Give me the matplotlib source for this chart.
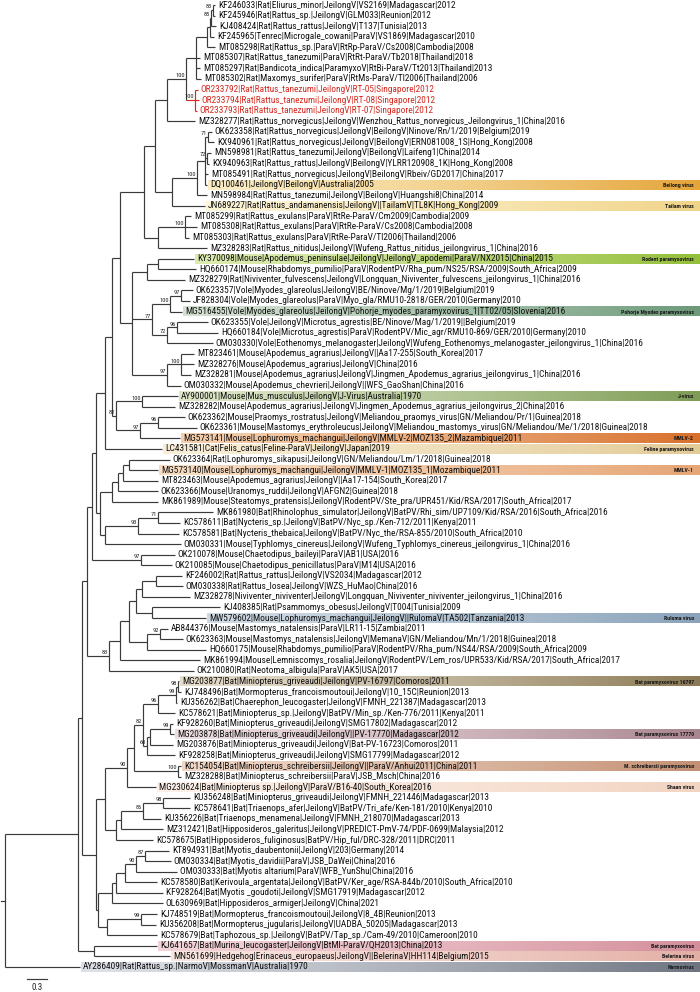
import matplotlib
matplotlib.use("Agg")
import matplotlib.pyplot as plt
import numpy as np
from matplotlib import font_manager
from matplotlib.font_manager import FontProperties
from matplotlib.colors import LinearSegmentedColormap

# ---------------- data: tree (Newick pieces; branch lengths in subst./site, bootstrap as node labels) ----------------
A2 = "(KF246033:0.03,KF245946:0.03)83:0.03"
A3 = "(" + A2 + ",KJ408424:0.075)85:0.015"
A4 = "(" + A3 + ",KF245965:0.06):0.045"
A5 = "(" + A4 + ",MT085298:0.12):0.165"
A_THAI = "(" + A5 + ",MT085307:0.06,MT085297:0.06,MT085302:0.075):0.15"
SING = "(OR233792:0.045,OR233794:0.06,OR233793:0.03)100:0.135"
A = "(" + A_THAI + "," + SING + ")100:0.285"
AP_ = "(" + A + ",MZ328277:0.42):0.18"
BEILONG = ("(((OK623358:0.06,KX940961:0.09)71:0.045,(MN598981:0.06,KX940963:0.03)72:0.03,"
           "MT085491:0.045,DQ100461:0.03):0.12,MN598984:0.15)100:0.375")
BT = "(" + BEILONG + ",JN689227:0.495):0.255"
T1B = "(" + AP_ + "," + BT + "):0.165"
N158 = "((MT085299:0.09,MT085308:0.18,MT085303:0.06)100:0.405,MZ328283:0.735):0.21"
N144 = "(" + T1B + "," + N158 + "):0.36"
RP = "((KY370098:0.54,HQ660174:0.57):0.165,MZ328279:0.57):0.225"
MY = ("(((OK623357:0.18,JF828304:0.135)97:0.165,MG516455:0.18)100:0.27,"
      "((OK623355:0.465,HQ660184:0.615)96:0.15,OM030330:0.69)72:0.225)77:0.30")
APO = "((MT823461:0.195,MZ328276:0.195,MZ328281:0.15)100:0.21,OM030332:0.21)97:0.525"
N132 = "(" + RP + "," + MY + "," + APO + "):0.18"
NTOP = "(" + N144 + "," + N132 + "):0.12"
J = "(AY900001:0.54,MZ328282:0.495)100:0.39"
M97 = "((OK623362:0.405,OK623361:0.585)96:0.27,MG573141:0.60)97:0.36"
NJ = "(" + J + "," + M97 + ")82:0.06"
N112 = "(" + NTOP + "," + NJ + "):0.105"
N105 = "(" + N112 + ",LC431581:0.855):0.135"
M2 = "((((OK623364:0.615,MG573140:0.435):0.09,MT823463:0.525):0.075,OK623366:0.60):0.09,MK861989:0.69):0.18"
NY = "(((MK861980:0.825,KC578611:0.33)71:0.30,KC578581:0.615)93:0.495,OM030331:1.14):0.075"
NYM = "(" + M2 + "," + NY + "):0.06"
A_ = "(" + N105 + "," + NYM + "):0.06"
CH = "(OK210078:0.51,OK210085:0.465)97:0.735"
RTOP = "(" + A_ + "," + CH + "):0.075"
RR_TOP = "(((KF246002:0.39,OM030338:0.405):0.21,MZ328278:0.72):0.09,(KJ408385:1.02,MW579602:0.81):0.24):0.105"
RR4 = "((AB844376:0.12,OK623363:0.345)92:0.195,HQ660175:0.885):0.27"
R83 = "(((" + RR_TOP + "," + RR4 + "):0.135,MK861994:1.20):0.165,OK210080:1.275)83:0.33"
R = "(" + RTOP + "," + R83 + "):0.075"

B99 = "((MG203877:0.015,KJ748496:0.045)98:0.03,KU356262:0.015)99:0.27"
B96 = "(" + B99 + ",KC578621:0.255)96:0.225"
B60 = "(((KF928260:0.045,MG203878:0.06)99:0.30,MG203876:0.345):0.045,KF928258:0.42)60:0.06"
B82 = "(" + B96 + "," + B60 + ")82:0.135"
N134 = "(" + B82 + ",(KC154054:0.045,MZ328288:0.045)100:0.66):0.105"
N127 = "(" + N134 + ",MG230624:0.435)90:0.33"
N116B = ("((((KU356248:0.405,KC578641:0.405)98:0.30,KU356226:0.27)86:0.33,MZ312421:0.63):0.075,"
         "KC578675:0.555):0.165")
N105B = "(" + N127 + "," + N116B + "):0.135"
MY87 = "(KT894931:0.36,OM030334:0.39)87:0.135"
MY90 = "(" + MY87 + ",OM030333:0.615)90:0.165"
MY2 = "(" + MY90 + ",KC578580:0.48):0.135"
MYO = "(" + MY2 + ",KF928264:0.705):0.06"
N112B = "(" + MYO + ",OL630969:0.765):0.21"
TA = "((KJ748519:0.24,KU356208:0.225)99:0.51,KC578679:0.75):0.135"
N98 = "(" + N112B + "," + TA + "):0.03"
B = "(" + N105B + "," + N98 + "):0.21"
X = "(" + R + "," + B + "):0.06"
BB = "(KJ641657:0.945,MN561699:1.14):0.24"
INGROUP = "(" + X + "," + BB + "):1.10"
TREE = "(" + INGROUP + ",AY286409:1.13);"

tip_labels = [
 "KF246033|Rat|Eliurus_minor|JeilongV|VS2169|Madagascar|2012",
 "KF245946|Rat|Rattus_sp.|JeilongV|GLM033|Reunion|2012",
 "KJ408424|Rat|Rattus_rattus|JeilongV|T137|Tunisia|2013",
 "KF245965|Tenrec|Microgale_cowani|ParaV|VS1869|Madagascar|2010",
 "MT085298|Rat|Rattus_sp.|ParaV|RtRp-ParaV/Cs2008|Cambodia|2008",
 "MT085307|Rat|Rattus_tanezumi|ParaV|RtRt-ParaV/Tb2018|Thailand|2018",
 "MT085297|Rat|Bandicota_indica|ParamyxoV|RtBi-ParaV/Tt2013|Thailand|2013",
 "MT085302|Rat|Maxomys_surifer|ParaV|RtMs-ParaV/Tl2006|Thailand|2006",
 "OR233792|Rat|Rattus_tanezumi|JeilongV|RT-05|Singapore|2012",
 "OR233794|Rat|Rattus_tanezumi|JeilongV|RT-08|Singapore|2012",
 "OR233793|Rat|Rattus_tanezumi|JeilongV|RT-07|Singapore|2012",
 "MZ328277|Rat|Rattus_norvegicus|JeilongV|Wenzhou_Rattus_norvegicus_Jeilongvirus_1|China|2016",
 "OK623358|Rat|Rattus_norvegicus|JeilongV|BeilongV|Ninove/Rn/1/2019|Belgium|2019",
 "KX940961|Rat|Rattus_norvegicus|JeilongV|BeilongV|ERN081008_1S|Hong_Kong|2008",
 "MN598981|Rat|Rattus_tanezumi|JeilongV|BeilongV|Laifeng1|China|2014",
 "KX940963|Rat|Rattus_rattus|JeilongV|BeilongV|YLRR120908_1K|Hong_Kong|2008",
 "MT085491|Rat|Rattus_norvegicus|JeilongV|BeilongV|Rbeiv/GD2017|China|2017",
 "DQ100461|JeilongV|BeilongV|Australia|2005",
 "MN598984|Rat|Rattus_tanezumi|JeilongV|BeilongV|Huangshi8|China|2014",
 "JN689227|Rat|Rattus_andamanensis|JeilongV||TailamV|TL8K|Hong_Kong|2009",
 "MT085299|Rat|Rattus_exulans|ParaV|RtRe-ParaV/Cm2009|Cambodia|2009",
 "MT085308|Rat|Rattus_exulans|ParaV|RtRe-ParaV/Cs2008|Cambodia|2008",
 "MT085303|Rat|Rattus_exulans|ParaV|RtRe-ParaV/Tl2006|Thailand|2006",
 "MZ328283|Rat|Rattus_nitidus|JeilongV|Wufeng_Rattus_nitidus_jeilongvirus_1|China|2016",
 "KY370098|Mouse|Apodemus_peninsulae|JeilongV|JeilongV_apodemi|ParaV/NX2015|China|2015",
 "HQ660174|Mouse|Rhabdomys_pumilio|ParaV|RodentPV/Rha_pum/NS25/RSA/2009|South_Africa|2009",
 "MZ328279|Rat|Niviventer_fulvescens|JeilongV|Longquan_Niviventer_fulvescens_jeilongvirus_1|China|2016",
 "OK623357|Vole|Myodes_glareolus|JeilongV|BE/Ninove/Mg/1/2019|Belgium|2019",
 "JF828304|Vole|Myodes_glareolus|ParaV|Myo_gla/RMU10-2818/GER/2010|Germany|2010",
 "MG516455|Vole|Myodes_glareolus|JeilongV|Pohorje_myodes_paramyxovirus_1|TT02/05|Slovenia|2016",
 "OK623355|Vole|JeilongV|Microtus_agrestis|BE/Ninove/Mag/1/2019||Belgium|2019",
 "HQ660184|Vole|Microtus_agrestis|ParaV|RodentPV/Mic_agr/RMU10-869/GER/2010|Germany|2010",
 "OM030330|Vole|Eothenomys_melanogaster|JeilongV|Wufeng_Eothenomys_melanogaster_jeilongvirus_1|China|2016",
 "MT823461|Mouse|Apodemus_agrarius|JeilongV||Aa17-255|South_Korea|2017",
 "MZ328276|Mouse|Apodemus_agrarius|JeilongV|China|2016",
 "MZ328281|Mouse|Apodemus_agrarius|JeilongV|Jingmen_Apodemus_agrarius_jeilongvirus_1|China|2016",
 "OM030332|Mouse|Apodemus_chevrieri|JeilongV||WFS_GaoShan|China|2016",
 "AY900001|Mouse|Mus_musculus|JeilongV|J-Virus|Australia|1970",
 "MZ328282|Mouse|Apodemus_agrarius|JeilongV|Jingmen_Apodemus_agrarius_jeilongvirus_2|China|2016",
 "OK623362|Mouse|Praomys_rostratus|JeilongV|Meliandou_praomys_virus|GN/Meliandou/Pr/1|Guinea|2018",
 "OK623361|Mouse|Mastomys_erythroleucus|JeilongV|Meliandou_mastomys_virus|GN/Meliandou/Me/1/2018|Guinea|2018",
 "MG573141|Mouse|Lophuromys_machangui|JeilongV|MMLV-2|MOZ135_2|Mazambique|2011",
 "LC431581|Cat|Felis_catus|Feline-ParaV|JeilongV|Japan|2019",
 "OK623364|Rat|Lophuromys_sikapusi|JeilongV|GN/Meliandou/Lm/1/2018|Guinea|2018",
 "MG573140|Mouse|Lophuromys_machangui|JeilongV|MMLV-1|MOZ135_1|Mozambique|2011",
 "MT823463|Mouse|Apodemus_agrarius|JeilongV||Aa17-154|South_Korea|2017",
 "OK623366|Mouse|Uranomys_ruddi|JeilongV|AFGN2|Guinea|2018",
 "MK861989|Mouse|Steatomys_pratensis|JeilongV|RodentPV/Ste_pra/UPR451/Kid/RSA/2017|South_Africa|2017",
 "MK861980|Bat|Rhinolophus_simulator|JeilongV|BatPV/Rhi_sim/UP7109/Kid/RSA/2016|South_Africa|2016",
 "KC578611|Bat|Nycteris_sp.|JeilongV|BatPV/Nyc_sp./Ken-712/2011|Kenya|2011",
 "KC578581|Bat|Nycteris_thebaica|JeilongV|BatPV/Nyc_the/RSA-855/2010|South_Africa|2010",
 "OM030331|Mouse|Typhlomys_cinereus|JeilongV|Wufeng_Typhlomys_cinereus_jeilongvirus_1|China|2016",
 "OK210078|Mouse|Chaetodipus_baileyi|ParaV|AB1|USA|2016",
 "OK210085|Mouse|Chaetodipus_penicillatus|ParaV|M14|USA|2016",
 "KF246002|Rat|Rattus_rattus|JeilongV|VS2034|Madagascar|2012",
 "OM030338|Rat|Rattus_losea|JeilongV|WZS_HuMao|China|2016",
 "MZ328278|Niviventer_niviventer|JeilongV|Longquan_Niviventer_niviventer_jeilongvirus_1|China|2016",
 "KJ408385|Rat|Psammomys_obesus|JeilongV|T004|Tunisia|2009",
 "MW579602|Mouse|Lophuromys_machangui|JeilongV||RulomaV|TA502|Tanzania|2013",
 "AB844376|Mouse|Mastomys_natalensis|ParaV|LR11-15|Zambia|2011",
 "OK623363|Mouse|Mastomys_natalensis|JeilongV|MemanaV|GN/Meliandou/Mn/1/2018|Guinea|2018",
 "HQ660175|Mouse|Rhabdomys_pumilio|ParaV|RodentPV/Rha_pum/NS44/RSA/2009|South_Africa|2009",
 "MK861994|Mouse|Lemniscomys_rosalia|JeilongV|RodentPV/Lem_ros/UPR533/Kid/RSA/2017|South_Africa|2017",
 "OK210080|Rat|Neotoma_albigula|ParaV|AK5|USA|2017",
 "MG203877|Bat|Miniopterus_griveaudi|JeilongV|PV-16797|Comoros|2011",
 "KJ748496|Bat|Mormopterus_francoismoutoui|JeilongV|10_15C|Reunion|2013",
 "KU356262|Bat|Chaerephon_leucogaster|JeilongV|FMNH_221387|Madagascar|2013",
 "KC578621|Bat|Miniopterus_sp.|JeilongV|BatPV/Min_sp./Ken-776/2011|Kenya|2011",
 "KF928260|Bat|Miniopterus_griveaudi|JeilongV|SMG17802|Madagascar|2012",
 "MG203878|Bat|Miniopterus_griveaudi|JeilongV||PV-17770|Madagascar|2012",
 "MG203876|Bat|Miniopterus_griveaudi|JeilongV|Bat-PV-16723|Comoros|2011",
 "KF928258|Bat|Miniopterus_griveaudi|JeilongV|SMG17799|Madagascar|2012",
 "KC154054|Bat|Miniopterus_schreibersii|JeilongV||ParaV/Anhui2011|China|2011",
 "MZ328288|Bat|Miniopterus_schreibersii|ParaV|JSB_Msch|China|2016",
 "MG230624|Bat|Miniopterus sp.|JeilongV|ParaV/B16-40|South_Korea|2016",
 "KU356248|Bat|Miniopterus_griveaudi|JeilongV|FMNH_221446|Madagascar|2013",
 "KC578641|Bat|Triaenops_afer|JeilongV|BatPV/Tri_afe/Ken-181/2010|Kenya|2010",
 "KU356226|Bat|Triaenops_menamena|JeilongV|FMNH_218070|Madagascar|2013",
 "MZ312421|Bat|Hipposideros_galeritus|JeilongV|PREDICT-PmV-74/PDF-0699|Malaysia|2012",
 "KC578675|Bat|Hipposideros_fuliginosus|BatPV/Hip_ful/DRC-328/2011|DRC|2011",
 "KT894931|Bat|Myotis_daubentonii|JeilongV|203|Germany|2014",
 "OM030334|Bat|Myotis_davidii|ParaV|JSB_DaWei|China|2016",
 "OM030333|Bat|Myotis altarium|ParaV|WFB_YunShu|China|2016",
 "KC578580|Bat|Kerivoula_argentata|JeilongV|BatPV/Ker_age/RSA-844b/2010|South_Africa|2010",
 "KF928264|Bat|Myotis _goudoti|JeilongV|SMG17919|Madagascar|2012",
 "OL630969|Bat|Hipposideros_armiger|JeilongV|China|2021",
 "KJ748519|Bat|Mormopterus_francoismoutoui|JeilongV|8_4B|Reunion|2013",
 "KU356208|Bat|Mormopterus_jugularis|JeilongV|UADBA_50205|Madagascar|2013",
 "KC578679|Bat|Taphozous_sp.|JeilongV|BatPV/Tap_sp./Cam-49/2010|Cameroon|2010",
 "KJ641657|Bat|Murina_leucogaster|JeilongV|BtMl-ParaV/QH2013|China|2013",
 "MN561699|Hedgehog|Erinaceus_europaeus|JeilongV||BelerinaV|HH114|Belgium|2015",
 "AY286409|Rat|Rattus_sp.|NarmoV|MossmanV|Australia|1970",
]
highlight_tips = ["OR233792", "OR233794", "OR233793"]

band_tips = ["DQ100461", "JN689227", "KY370098", "MG516455", "AY900001", "MG573141",
             "LC431581", "MG573140", "MW579602", "MG203877", "MG203878", "KC154054",
             "MG230624", "KJ641657", "MN561699", "AY286409"]
band_names = ["Beilong virus", "Tailam virus", "Rodent paramyxovirus", "Pohorje Myodes paramyxovirus",
              "J-virus", "MMLV-2", "Feline paramyxovirus", "MMLV-1", "Ruloma virus",
              "Bat paramyxovirus 16797", "Bat paramyxovirus 17770", "M. schreibersii paramyxovirus",
              "Shaan virus", "Bat paramyxovirus", "Belerina virus", "Narmovirus"]
band_left = ["#fbedc4", "#fdf5d8", "#dcebb0", "#d4e0d2", "#dde6c8", "#f4cfae", "#f8edd6", "#f7dcc2",
             "#cfd9e3", "#e4dccb", "#ecdde0", "#efd6c6", "#fcf0e8", "#f2d3d8", "#f9e5df", "#dde0e6"]
band_right = ["#e5a53a", "#f0d488", "#94bf3a", "#6d9a7a", "#7e9c55", "#d8702c", "#e2cb97", "#e6a575",
              "#8aa3ba", "#8b7a55", "#a98690", "#c39074", "#f2d4c2", "#d48f9b", "#e3afa5", "#6e7480"]
scale_length = 0.3

# ---------------- parse tree ----------------
def parse_newick(s):
    pos = 0
    def node():
        nonlocal pos
        n = {"children": [], "name": "", "len": 0.0, "support": ""}
        if s[pos] == "(":
            pos += 1
            while True:
                n["children"].append(node())
                if s[pos] == ",":
                    pos += 1
                    continue
                pos += 1
                break
        st = pos
        while pos < len(s) and s[pos] not in ":,();":
            pos += 1
        lab = s[st:pos]
        if n["children"]:
            n["support"] = lab
        else:
            n["name"] = lab
        if pos < len(s) and s[pos] == ":":
            pos += 1
            st = pos
            while s[pos] not in ",();":
                pos += 1
            n["len"] = float(s[st:pos])
        return n
    return node()

root = parse_newick(TREE)
tips = []
def layout(n, x0):
    n["x"] = x0 + n["len"]
    if not n["children"]:
        n["y"] = len(tips)
        tips.append(n)
    else:
        for c in n["children"]:
            layout(c, n["x"])
        n["y"] = (n["children"][0]["y"] + n["children"][-1]["y"]) / 2
layout(root, 0.0)

label_of = {lab.split("|")[0]: lab for lab in tip_labels}

def mark_red(n):
    if not n["children"]:
        n["red"] = n["name"] in highlight_tips
    else:
        for c in n["children"]:
            mark_red(c)
        n["red"] = all(c["red"] for c in n["children"])
mark_red(root)

# ---------------- fonts ----------------
def pick_font():
    cands = [("Liberation Sans Narrow", "normal"), ("Arial Narrow", "normal"),
             ("Roboto Condensed", "normal"), ("Roboto", "condensed"),
             ("Noto Sans", "condensed"), ("Open Sans", "condensed"),
             ("DejaVu Sans", "condensed"), ("Liberation Sans", "normal")]
    for fam, st in cands:
        fp = FontProperties(family=fam, stretch=st)
        try:
            path = font_manager.findfont(fp, fallback_to_default=False)
        except Exception:
            continue
        low = path.lower()
        if st == "normal" and fam.lower().split()[0] in low.replace(" ", ""):
            return fp
        if "condensed" in low or "narrow" in low:
            return fp
    return FontProperties(family="DejaVu Sans")
FP = pick_font()

# ---------------- figure ----------------
W, H = 700, 992
fig = plt.figure(figsize=(W / 100, H / 100), dpi=100)
ax = fig.add_axes([0, 0, 1, 1])
ax.axis("off")
PX = 66.67           # pixels per unit (0.3 -> 20 px)
X0 = 4.5             # root pixel position
DY = 10.57           # pixels per tip row
Y0 = 5.0
xmin, xmax = -X0 / PX, (W - X0) / PX
ax.set_xlim(xmin, xmax)
ax.set_ylim((H - Y0) / DY, -Y0 / DY)

renderer = fig.canvas.get_renderer()
probe = ax.text(0, 0, label_of["MZ328277"], fontproperties=FP, fontsize=7)
wpx = probe.get_window_extent(renderer).width
probe.remove()
FS = min(7 * 372.0 / wpx, 7.2)

line_c = "#3a3a3a"
red_c = "#d42a20"
lw = 0.85

def draw(n):
    if n["children"]:
        col = red_c if n["red"] else line_c
        ax.plot([n["x"], n["x"]], [n["children"][0]["y"], n["children"][-1]["y"]],
                color=col, lw=lw, solid_capstyle="butt")
        for c in n["children"]:
            ccol = red_c if c["red"] else line_c
            ax.plot([n["x"], c["x"]], [c["y"], c["y"]], color=ccol, lw=lw, solid_capstyle="butt")
            draw(c)
        if n["support"]:
            ax.text(n["x"] - 1.2 / PX, n["y"] - 0.08, n["support"], ha="right", va="bottom",
                    fontsize=FS * 0.68, fontproperties=FP, color="#222222")
draw(root)
ax.plot([root["x"] - 4 / PX, root["x"]], [root["y"], root["y"]], color=line_c, lw=lw)

tip_index = {t["name"]: t for t in tips}

for name, tip, cl, cr in zip(band_names, band_tips, band_left, band_right):
    t = tip_index[tip]
    cmap = LinearSegmentedColormap.from_list("b", [cl, cr])
    grad = np.linspace(0, 1, 256).reshape(1, -1) ** 1.3
    ax.imshow(grad, cmap=cmap, extent=[t["x"] + 1.5 / PX, xmax, t["y"] + 0.46, t["y"] - 0.46],
              aspect="auto", zorder=0, interpolation="bilinear")
    ax.text(xmax - 6 / PX, t["y"] + 0.05, name, ha="right", va="center", fontsize=FS * 0.62,
            fontweight="bold", fontproperties=FP, color="#1a1a1a", zorder=3)

for t in tips:
    col = red_c if t["red"] else "#111111"
    ax.text(t["x"] + 3 / PX, t["y"], label_of[t["name"]], ha="left", va="center",
            fontsize=FS, fontproperties=FP, color=col, zorder=3)

sb_x = (27 - X0) / PX
sb_y = (979 - Y0) / DY
ax.plot([sb_x, sb_x + scale_length], [sb_y, sb_y], color=line_c, lw=lw)
ax.text(sb_x + scale_length / 2, sb_y + 0.35, f"{scale_length:g}", ha="center", va="top",
        fontsize=FS * 0.95, fontproperties=FP, color="#222222")

ax.set_xlim(xmin, xmax)
ax.set_ylim((H - Y0) / DY, -Y0 / DY)
fig.savefig("out.png", dpi=100)
